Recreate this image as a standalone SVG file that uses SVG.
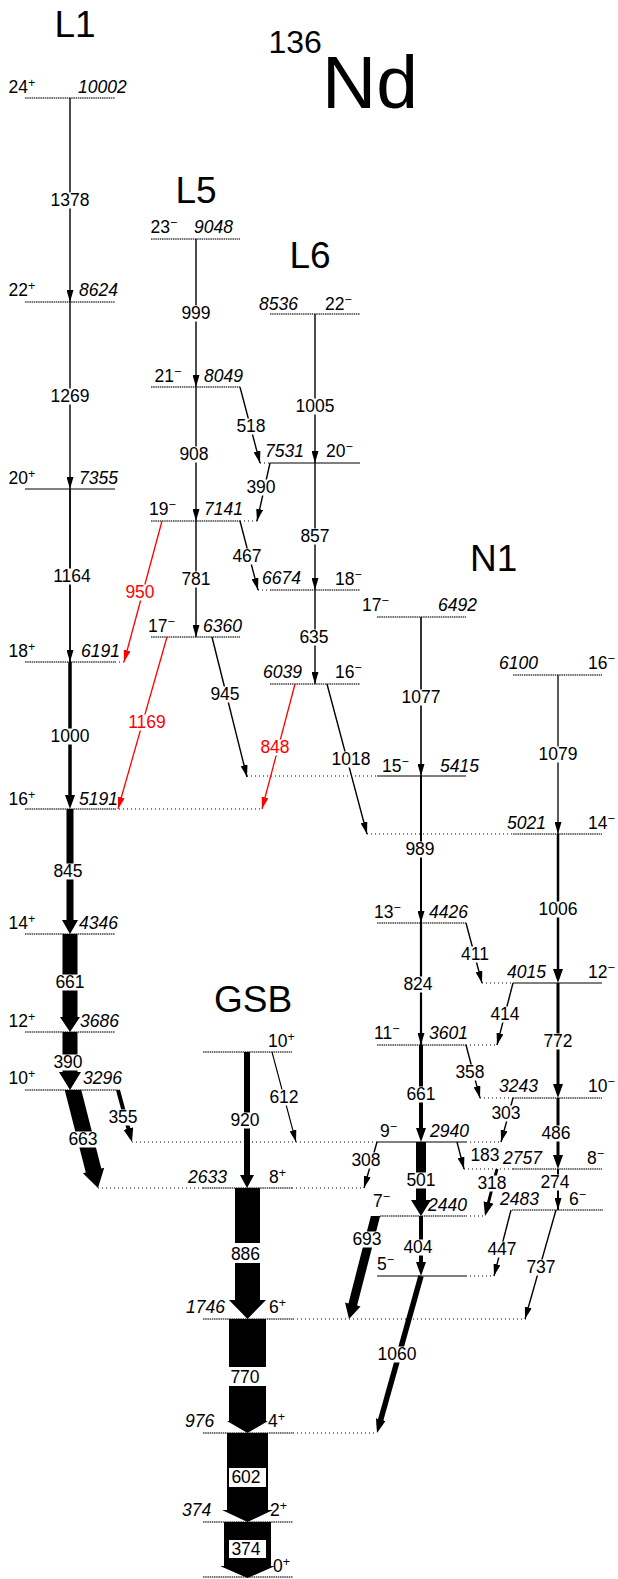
<svg xmlns="http://www.w3.org/2000/svg" width="618" height="1579" viewBox="0 0 618 1579">
<style>
.t{font-family:"Liberation Sans",Arial,Helvetica,sans-serif;font-size:17.5px;fill:#000}
.e{font-style:italic}
.c{text-anchor:middle}
.r{fill:#f00}
.sp{font-size:12.5px}
.big{font-size:37px}
.lv{stroke:#444;stroke-width:1.3;stroke-dasharray:1.5 0.7;fill:none}
.ls{stroke:#000;stroke-width:1;fill:none}
.dt{stroke:#000;stroke-width:1;stroke-dasharray:1 3;fill:none}
.tr{stroke:#000;fill:none;stroke-width:1.4}
.rd{stroke:#f00;fill:none;stroke-width:1.3}
.wb{fill:#fff}
.th{fill:#000}
</style>
<defs>
<marker id="ah" viewBox="0 0 12 7" refX="12" refY="3.5" markerWidth="12" markerHeight="7" markerUnits="userSpaceOnUse" orient="auto"><path d="M0,0L12,3.5L0,7z" fill="#000"/></marker>
<marker id="ahr" viewBox="0 0 12 7" refX="12" refY="3.5" markerWidth="12" markerHeight="7" markerUnits="userSpaceOnUse" orient="auto"><path d="M0,0L12,3.5L0,7z" fill="#f00"/></marker>
<marker id="am" viewBox="0 0 14 10" refX="6" refY="5" markerWidth="14" markerHeight="10" markerUnits="userSpaceOnUse" orient="auto"><path d="M0,0L14,5L0,10z" fill="#000"/></marker>
</defs>
<rect width="618" height="1579" fill="#fff"/>

<g id="titles">
<text class="t big" x="54.5" y="37">L1</text>
<text class="t big" x="175.5" y="203">L5</text>
<text class="t big" x="289.5" y="268">L6</text>
<text class="t big" x="470" y="571">N1</text>
<text class="t big" x="214" y="1012">GSB</text>
<text class="t" x="268.5" y="53" style="font-size:32px">136</text>
<text class="t" x="322" y="108" style="font-size:75px">Nd</text>
</g>

<!-- L1 levels -->
<g id="lv10002"><line class="lv" x1="25" y1="98" x2="115" y2="98"/><text class="t" x="8.5" y="93">24<tspan class="sp" dy="-6">+</tspan></text><text class="t e" x="78" y="93">10002</text></g>
<g id="lv8624"><line class="lv" x1="25" y1="302" x2="115" y2="302"/><text class="t" x="8.5" y="296">22<tspan class="sp" dy="-6">+</tspan></text><text class="t e" x="79" y="296">8624</text></g>
<g id="lv7355"><line class="ls" x1="25" y1="489" x2="115" y2="489"/><text class="t" x="8.5" y="484">20<tspan class="sp" dy="-6">+</tspan></text><text class="t e" x="79" y="484">7355</text></g>
<g id="lv6191"><line class="lv" x1="25" y1="662" x2="115" y2="662"/><line class="dt" x1="115" y1="662" x2="125" y2="662"/><text class="t" x="8.5" y="657">18<tspan class="sp" dy="-6">+</tspan></text><text class="t e" x="81" y="657">6191</text></g>
<g id="lv5191"><line class="lv" x1="25" y1="809" x2="115" y2="809"/><line class="dt" x1="115" y1="809" x2="262" y2="809"/><text class="t" x="8.5" y="805">16<tspan class="sp" dy="-6">+</tspan></text><text class="t e" x="79" y="805">5191</text></g>
<g id="lv4346"><line class="lv" x1="25" y1="934" x2="115" y2="934"/><text class="t" x="8.5" y="929">14<tspan class="sp" dy="-6">+</tspan></text><text class="t e" x="79" y="929">4346</text></g>
<g id="lv3686"><line class="lv" x1="25" y1="1032" x2="115" y2="1032"/><text class="t" x="8.5" y="1027">12<tspan class="sp" dy="-6">+</tspan></text><text class="t e" x="80" y="1027">3686</text></g>
<g id="lv3296"><line class="lv" x1="25" y1="1090" x2="118" y2="1090"/><text class="t" x="8.5" y="1084">10<tspan class="sp" dy="-6">+</tspan></text><text class="t e" x="83" y="1084">3296</text></g>

<!-- L5 levels -->
<g id="lv9048"><line class="lv" x1="151" y1="239" x2="240" y2="239"/><text class="t" x="150.5" y="233">23<tspan class="sp" dy="-6">−</tspan></text><text class="t e" x="194" y="233">9048</text></g>
<g id="lv8049"><line class="lv" x1="151" y1="387" x2="240" y2="387"/><text class="t" x="154.5" y="382">21<tspan class="sp" dy="-6">−</tspan></text><text class="t e" x="204" y="382">8049</text></g>
<g id="lv7141"><line class="lv" x1="151" y1="521" x2="240" y2="521"/><line class="dt" x1="240" y1="521" x2="258" y2="521"/><text class="t" x="149" y="515">19<tspan class="sp" dy="-6">−</tspan></text><text class="t e" x="204" y="515">7141</text></g>
<g id="lv6360"><line class="lv" x1="151" y1="637" x2="240" y2="637"/><text class="t" x="148" y="632">17<tspan class="sp" dy="-6">−</tspan></text><text class="t e" x="203" y="632">6360</text></g>

<!-- L6 levels -->
<g id="lv8536"><line class="lv" x1="270" y1="314" x2="360" y2="314"/><text class="t e" x="259" y="310">8536</text><text class="t" x="325" y="310">22<tspan class="sp" dy="-6">−</tspan></text></g>
<g id="lv7531"><line class="ls" x1="270" y1="463" x2="360" y2="463"/><line class="dt" x1="260" y1="463" x2="270" y2="463"/><text class="t e" x="265" y="457">7531</text><text class="t" x="326" y="457">20<tspan class="sp" dy="-6">−</tspan></text></g>
<g id="lv6674"><line class="lv" x1="270" y1="590" x2="360" y2="590"/><line class="dt" x1="258" y1="590" x2="270" y2="590"/><text class="t e" x="262" y="584">6674</text><text class="t" x="335" y="585">18<tspan class="sp" dy="-6">−</tspan></text></g>
<g id="lv6039"><line class="lv" x1="270" y1="684" x2="360" y2="684"/><text class="t e" x="263" y="678">6039</text><text class="t" x="335" y="678">16<tspan class="sp" dy="-6">−</tspan></text></g>

<!-- N1 left levels -->
<g id="lv6492"><line class="lv" x1="377" y1="617" x2="466" y2="617"/><text class="t" x="362" y="611">17<tspan class="sp" dy="-6">−</tspan></text><text class="t e" x="438" y="611">6492</text></g>
<g id="lv5415"><line class="ls" x1="377" y1="776" x2="466" y2="776"/><line class="dt" x1="247" y1="776" x2="377" y2="776"/><text class="t" x="382" y="772">15<tspan class="sp" dy="-6">−</tspan></text><text class="t e" x="440" y="772">5415</text></g>
<g id="lv4426"><line class="lv" x1="377" y1="923" x2="466" y2="923"/><text class="t" x="374" y="918">13<tspan class="sp" dy="-6">−</tspan></text><text class="t e" x="429" y="918">4426</text></g>
<g id="lv3601"><line class="lv" x1="377" y1="1045" x2="466" y2="1045"/><line class="dt" x1="466" y1="1045" x2="497" y2="1045"/><text class="t" x="374" y="1039">11<tspan class="sp" dy="-6">−</tspan></text><text class="t e" x="429" y="1039">3601</text></g>
<g id="lv2940"><line class="ls" x1="377" y1="1142" x2="466" y2="1142"/><line class="dt" x1="132" y1="1142" x2="377" y2="1142"/><line class="dt" x1="466" y1="1142" x2="501" y2="1142"/><text class="t" x="380" y="1137">9<tspan class="sp" dy="-6">−</tspan></text><text class="t e" x="430" y="1137">2940</text></g>
<g id="lv2440"><line class="lv" x1="380" y1="1216" x2="466" y2="1216"/><line class="dt" x1="466" y1="1216" x2="485" y2="1216"/><text class="t" x="373" y="1207">7<tspan class="sp" dy="-6">−</tspan></text><text class="t e" x="428" y="1211">2440</text></g>
<g id="lv5m"><line class="ls" x1="377" y1="1276" x2="466" y2="1276"/><line class="dt" x1="466" y1="1276" x2="494" y2="1276"/><text class="t" x="377" y="1270">5<tspan class="sp" dy="-6">−</tspan></text></g>

<!-- N1 right levels -->
<g id="lv6100"><line class="lv" x1="513" y1="675" x2="602" y2="675"/><text class="t e" x="499" y="669">6100</text><text class="t" x="588" y="669">16<tspan class="sp" dy="-6">−</tspan></text></g>
<g id="lv5021"><line class="lv" x1="513" y1="834" x2="602" y2="834"/><line class="dt" x1="367" y1="834" x2="513" y2="834"/><text class="t e" x="507" y="829">5021</text><text class="t" x="588" y="829">14<tspan class="sp" dy="-6">−</tspan></text></g>
<g id="lv4015"><line class="ls" x1="513" y1="983" x2="602" y2="983"/><line class="dt" x1="482" y1="983" x2="513" y2="983"/><text class="t e" x="507" y="978">4015</text><text class="t" x="588" y="978">12<tspan class="sp" dy="-6">−</tspan></text></g>
<g id="lv3243"><line class="lv" x1="513" y1="1098" x2="602" y2="1098"/><line class="dt" x1="480" y1="1098" x2="513" y2="1098"/><text class="t e" x="499" y="1092">3243</text><text class="t" x="588" y="1092">10<tspan class="sp" dy="-6">−</tspan></text></g>
<g id="lv2757"><line class="lv" x1="513" y1="1169" x2="602" y2="1169"/><line class="dt" x1="464" y1="1169" x2="513" y2="1169"/><text class="t e" x="503" y="1164">2757</text><text class="t" x="587" y="1164">8<tspan class="sp" dy="-6">−</tspan></text></g>
<g id="lv2483"><line class="lv" x1="512" y1="1210" x2="603" y2="1210"/><text class="t e" x="500" y="1205">2483</text><text class="t" x="569" y="1205">6<tspan class="sp" dy="-6">−</tspan></text></g>

<!-- GSB levels -->
<g id="lv10p"><line class="lv" x1="203" y1="1052" x2="292" y2="1052"/><text class="t" x="268" y="1047">10<tspan class="sp" dy="-6">+</tspan></text></g>
<g id="lv2633"><line class="lv" x1="203" y1="1188" x2="292" y2="1188"/><line class="dt" x1="98" y1="1188" x2="203" y2="1188"/><line class="dt" x1="292" y1="1188" x2="364" y2="1188"/><text class="t e" x="188" y="1183">2633</text><text class="t" x="269" y="1183">8<tspan class="sp" dy="-6">+</tspan></text></g>
<g id="lv1746"><line class="lv" x1="203" y1="1319" x2="293" y2="1319"/><line class="dt" x1="293" y1="1319" x2="527" y2="1319"/><text class="t e" x="186" y="1313">1746</text><text class="t" x="269" y="1313">6<tspan class="sp" dy="-6">+</tspan></text></g>
<g id="lv976"><line class="lv" x1="203" y1="1433" x2="293" y2="1433"/><line class="dt" x1="293" y1="1433" x2="377" y2="1433"/><text class="t e" x="185" y="1427">976</text><text class="t" x="268" y="1427">4<tspan class="sp" dy="-6">+</tspan></text></g>
<g id="lv374"><line class="lv" x1="203" y1="1522" x2="293" y2="1522"/><text class="t e" x="182" y="1516">374</text><text class="t" x="270" y="1516">2<tspan class="sp" dy="-6">+</tspan></text></g>
<g id="lv0"><line class="lv" x1="203" y1="1577" x2="293" y2="1577"/><text class="t" x="273" y="1572">0<tspan class="sp" dy="-6">+</tspan></text></g>

<g id="connectors">
<path class="tr" d="M70,98V302" marker-end="url(#ah)"/>
<path class="tr" d="M70,302V489" marker-end="url(#ah)"/>
<path class="tr" d="M70,489V662" style="stroke-width:1.8" marker-end="url(#ah)"/>
<path class="tr" d="M196,239V387" marker-end="url(#ah)"/>
<path class="tr" d="M196,387V521" marker-end="url(#ah)"/>
<path class="tr" d="M196,521V637" marker-end="url(#ah)"/>
<path class="tr" d="M240,387L260,463" marker-end="url(#ah)"/>
<path class="tr" d="M270,463L257,521" marker-end="url(#ah)"/>
<path class="tr" d="M240,521L258,590" marker-end="url(#ah)"/>
<path class="tr" d="M212,637L247,777" marker-end="url(#ah)"/>
<path class="tr" d="M315,314V463" marker-end="url(#ah)"/>
<path class="tr" d="M315,463V590" marker-end="url(#ah)"/>
<path class="tr" d="M315,590V684" marker-end="url(#ah)"/>
<path class="tr" d="M327,684L367,834" marker-end="url(#ah)"/>
<path class="tr" d="M421,617V776" style="stroke-width:1.6" marker-end="url(#ah)"/>
<path class="tr" d="M421,776V923" style="stroke-width:2" marker-end="url(#ah)"/>
<path class="tr" d="M421,923V1045" style="stroke-width:2.2" marker-end="url(#ah)"/>
<path class="tr" d="M558,675V834" style="stroke-width:1.3" marker-end="url(#ah)"/>
<path class="tr" d="M558,1169V1210" style="stroke-width:2" marker-end="url(#ah)"/>
<path class="tr" d="M556,1210L525,1319" marker-end="url(#ah)"/>
<path class="tr" d="M466,923L482,983" marker-end="url(#ah)"/>
<path class="tr" d="M513,983L497,1045" marker-end="url(#ah)"/>
<path class="tr" d="M466,1045L480,1098" marker-end="url(#ah)"/>
<path class="tr" d="M513,1098L501,1142" marker-end="url(#ah)"/>
<path class="tr" d="M377,1142L364,1188" marker-end="url(#ah)"/>
<path class="tr" d="M457,1142L464,1169" marker-end="url(#ah)"/>
<path class="tr" d="M511,1210L494,1276" marker-end="url(#ah)"/>
<path class="tr" d="M272,1052L296,1142" style="stroke-width:1.1" marker-end="url(#ah)"/>
<path class="rd" d="M162,521L124,662" marker-end="url(#ahr)"/>
<path class="rd" d="M167,637L118,809" marker-end="url(#ahr)"/>
<path class="rd" d="M295,684L262,809" marker-end="url(#ahr)"/>
<path class="tr" d="M70,662V801" style="stroke-width:3.5" marker-end="url(#am)"/>
<path class="tr" d="M558,834V975" style="stroke-width:2.5" marker-end="url(#am)"/>
<path class="tr" d="M558,983V1090" style="stroke-width:3" marker-end="url(#am)"/>
<path class="tr" d="M558,1098V1161" style="stroke-width:3" marker-end="url(#am)"/>
<path class="tr" d="M421,1045V1134" style="stroke-width:4" marker-end="url(#am)"/>
<path class="tr" d="M421,1216V1268" style="stroke-width:4" marker-end="url(#am)"/>
<path class="tr" d="M118,1090L129.92,1134.27" style="stroke-width:4" marker-end="url(#am)"/>
<path class="tr" d="M497,1169L486.98,1208.25" style="stroke-width:3" marker-end="url(#am)"/>
<path class="tr" d="M421,1276L379.16,1425.3" style="stroke-width:5.5" marker-end="url(#am)"/>
<path class="th" d="M66.5,809H73.5V920H78L70,934L62,920H66.5Z"/>
<path class="th" d="M62.5,934H77.5V1017H80L70,1032L60,1017H62.5Z"/>
<path class="th" d="M62.5,1032H77.5V1072H81L70,1090L59,1072H62.5Z"/>
<path class="th" d="M64.7,1090L81.3,1090L101.3,1168.6L104.2,1167.8L98,1188L82.9,1173.3L85.8,1172.5Z"/>
<path class="th" d="M370.85,1216L380.15,1216L357.1,1305.6L360.5,1306.5L349,1319L345,1302.5L348.4,1303.4Z"/>
<path class="th" d="M416,1142H426V1200H431L421,1216L411,1200H416Z"/>
<path class="th" d="M244,1052H250V1175H254L247,1188L240,1175H244Z"/>
<path class="th" d="M235,1188H260V1300H266L247.5,1319L229,1300H235Z"/>
<path class="th" d="M229,1319H266V1421H268L247.5,1433L227,1421H229Z"/>
<path class="th" d="M227,1433H268V1510H273L247.5,1522L222,1510H227Z"/>
<path class="th" d="M224,1522H271V1566H275L247.5,1578L220,1566H224Z"/>
</g>

<g id="labels">
<rect class="wb" x="49.05" y="192.5" width="41.9" height="16"/><text class="t c" x="70" y="206">1378</text>
<rect class="wb" x="49.05" y="388.5" width="41.9" height="16"/><text class="t c" x="70" y="402">1269</text>
<rect class="wb" x="51.05" y="568.5" width="41.9" height="16"/><text class="t c" x="72" y="582">1164</text>
<rect class="wb" x="49.05" y="728.5" width="41.9" height="16"/><text class="t c" x="70" y="742">1000</text>
<rect class="wb" x="51.9" y="863.5" width="32.2" height="16"/><text class="t c" x="68" y="877">845</text>
<rect class="wb" x="53.9" y="974.5" width="32.2" height="16"/><text class="t c" x="70" y="988">661</text>
<rect class="wb" x="51.9" y="1054.5" width="32.2" height="16"/><text class="t c" x="68" y="1068">390</text>
<rect class="wb" x="66.9" y="1131.5" width="32.2" height="16"/><text class="t c" x="83" y="1145">663</text>
<rect class="wb" x="106.9" y="1109.5" width="32.2" height="16"/><text class="t c" x="123" y="1123">355</text>
<rect class="wb" x="179.9" y="305.5" width="32.2" height="16"/><text class="t c" x="196" y="319">999</text>
<rect class="wb" x="177.9" y="446.5" width="32.2" height="16"/><text class="t c" x="194" y="460">908</text>
<rect class="wb" x="179.9" y="571.5" width="32.2" height="16"/><text class="t c" x="196" y="585">781</text>
<rect class="wb" x="234.9" y="418.5" width="32.2" height="16"/><text class="t c" x="251" y="432">518</text>
<rect class="wb" x="244.9" y="479.5" width="32.2" height="16"/><text class="t c" x="261" y="493">390</text>
<rect class="wb" x="230.9" y="548.5" width="32.2" height="16"/><text class="t c" x="247" y="562">467</text>
<rect class="wb" x="123.9" y="584.5" width="32.2" height="16"/><text class="t c r" x="140" y="598">950</text>
<rect class="wb" x="126.05" y="714.5" width="41.9" height="16"/><text class="t c r" x="147" y="728">1169</text>
<rect class="wb" x="208.9" y="686.5" width="32.2" height="16"/><text class="t c" x="225" y="700">945</text>
<rect class="wb" x="258.9" y="739.5" width="32.2" height="16"/><text class="t c r" x="275" y="753">848</text>
<rect class="wb" x="294.05" y="398.5" width="41.9" height="16"/><text class="t c" x="315" y="412">1005</text>
<rect class="wb" x="298.9" y="528.5" width="32.2" height="16"/><text class="t c" x="315" y="542">857</text>
<rect class="wb" x="297.9" y="629.5" width="32.2" height="16"/><text class="t c" x="314" y="643">635</text>
<rect class="wb" x="330.05" y="751.5" width="41.9" height="16"/><text class="t c" x="351" y="765">1018</text>
<rect class="wb" x="400.05" y="689.5" width="41.9" height="16"/><text class="t c" x="421" y="703">1077</text>
<rect class="wb" x="537.05" y="746.5" width="41.9" height="16"/><text class="t c" x="558" y="760">1079</text>
<rect class="wb" x="403.9" y="841.5" width="32.2" height="16"/><text class="t c" x="420" y="855">989</text>
<rect class="wb" x="537.05" y="901.5" width="41.9" height="16"/><text class="t c" x="558" y="915">1006</text>
<rect class="wb" x="458.9" y="946.5" width="32.2" height="16"/><text class="t c" x="475" y="960">411</text>
<rect class="wb" x="401.9" y="976.5" width="32.2" height="16"/><text class="t c" x="418" y="990">824</text>
<rect class="wb" x="488.9" y="1006.5" width="32.2" height="16"/><text class="t c" x="505" y="1020">414</text>
<rect class="wb" x="541.9" y="1033.5" width="32.2" height="16"/><text class="t c" x="558" y="1047">772</text>
<rect class="wb" x="453.9" y="1064.5" width="32.2" height="16"/><text class="t c" x="470" y="1078">358</text>
<rect class="wb" x="404.9" y="1086.5" width="32.2" height="16"/><text class="t c" x="421" y="1100">661</text>
<rect class="wb" x="489.9" y="1105.5" width="32.2" height="16"/><text class="t c" x="506" y="1119">303</text>
<rect class="wb" x="539.9" y="1125.5" width="32.2" height="16"/><text class="t c" x="556" y="1139">486</text>
<rect class="wb" x="349.9" y="1152.5" width="32.2" height="16"/><text class="t c" x="366" y="1166">308</text>
<rect class="wb" x="404.9" y="1172.5" width="32.2" height="16"/><text class="t c" x="421" y="1186">501</text>
<rect class="wb" x="468.9" y="1147.5" width="32.2" height="16"/><text class="t c" x="485" y="1161">183</text>
<rect class="wb" x="475.9" y="1175.5" width="32.2" height="16"/><text class="t c" x="492" y="1189">318</text>
<rect class="wb" x="538.9" y="1174.5" width="32.2" height="16"/><text class="t c" x="555" y="1188">274</text>
<rect class="wb" x="350.9" y="1231.5" width="32.2" height="16"/><text class="t c" x="367" y="1245">693</text>
<rect class="wb" x="401.9" y="1239.5" width="32.2" height="16"/><text class="t c" x="418" y="1253">404</text>
<rect class="wb" x="485.9" y="1241.5" width="32.2" height="16"/><text class="t c" x="502" y="1255">447</text>
<rect class="wb" x="524.9" y="1259.5" width="32.2" height="16"/><text class="t c" x="541" y="1273">737</text>
<rect class="wb" x="376.05" y="1346.5" width="41.9" height="16"/><text class="t c" x="397" y="1360">1060</text>
<rect class="wb" x="228.9" y="1112.5" width="32.2" height="16"/><text class="t c" x="245" y="1126">920</text>
<rect class="wb" x="267.9" y="1089.5" width="32.2" height="16"/><text class="t c" x="284" y="1103">612</text>
<rect class="wb" x="232" y="1243" width="31" height="20"/><text class="t c" x="245.5" y="1260">886</text>
<rect class="wb" x="227" y="1367" width="42" height="19"/><text class="t c" x="245" y="1383">770</text>
<rect class="wb" x="229" y="1468" width="37" height="19"/><text class="t c" x="246" y="1483">602</text>
<rect class="wb" x="229" y="1540" width="37" height="18"/><text class="t c" x="246" y="1555">374</text>
</g>
</svg>
